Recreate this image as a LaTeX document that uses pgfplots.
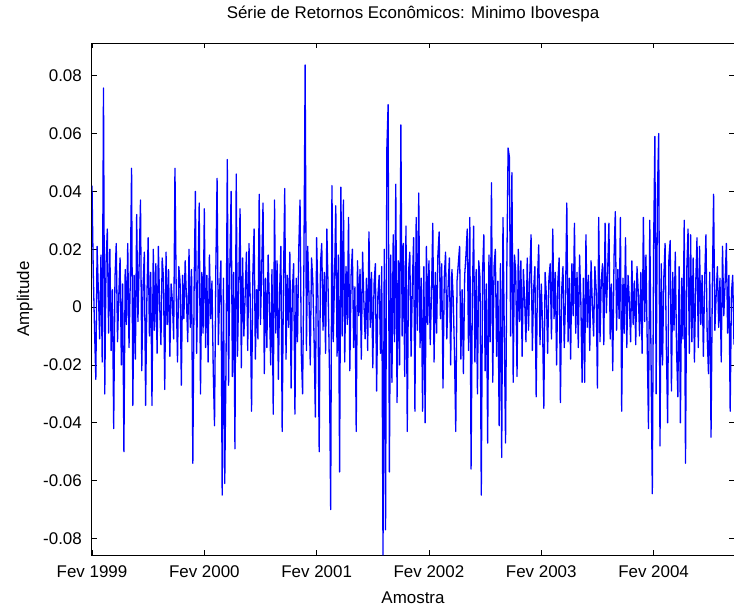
\documentclass[border=0pt]{standalone}
\usepackage{fontspec}
\setmainfont{Liberation Sans}
\usepackage{pgfplots}
\pgfplotsset{compat=1.18}
\begin{document}
\begin{tikzpicture}
\useasboundingbox (-92bp,-54bp) rectangle (642bp,555bp);
\begin{axis}[
  at={(0,0)}, anchor=south west,
  scale only axis, width=642bp, height=512bp,
  xmin=0, xmax=503, ymin=-0.0857, ymax=0.0913,
  scaled y ticks=false, scaled x ticks=false,
  xtick={0,88,176,264,352,440},
  xticklabels={Fev 1999, Fev 2000, Fev 2001, Fev 2002, Fev 2003, Fev 2004},
  ytick={-0.08,-0.06,-0.04,-0.02,0,0.02,0.04,0.06,0.08},
  yticklabels={-0.08,-0.06,-0.04,-0.02,0,0.02,0.04,0.06,0.08},
  tick align=inside, major tick length=5bp,
  tick style={black, line width=0.8bp},
  axis line style={black, line width=1bp},
  font=\fontsize{17}{20}\selectfont,
  xticklabel style={anchor=base, yshift=-22bp, inner sep=0pt},
  yticklabel style={anchor=east, xshift=-10bp, inner sep=0pt},
  title={Série de Retornos Econômicos: Minimo Ibovespa},
  title style={at={(axis description cs:0.5,1)}, anchor=base, yshift=19bp, inner sep=0pt},
  xlabel={Amostra},
  xlabel style={at={(axis description cs:0.5,0)}, anchor=base, yshift=-48bp, inner sep=0pt},
  ylabel={Amplitude},
  ylabel style={at={(axis description cs:-0.0981,0.5)}, anchor=base, inner sep=0pt},
]
\addplot[color={rgb,1:red,0;green,0;blue,1}, line width=1.3bp, line join=round] table[x expr=\coordindex, y index=0, header=false, row sep=\\] {
0.042\\ 0.012\\ -0.008\\ -0.025\\ 0.021\\ 0.005\\ -0.011\\ 0.018\\ -0.019\\ 0.0757\\
-0.030\\ 0.015\\ 0.027\\ -0.009\\ 0.020\\ -0.015\\ 0.006\\ -0.042\\ 0.010\\ 0.022\\
-0.012\\ 0.004\\ 0.017\\ -0.020\\ 0.008\\ -0.050\\ 0.013\\ -0.006\\ 0.022\\ -0.014\\
0.009\\ 0.048\\ -0.034\\ 0.011\\ -0.018\\ 0.032\\ -0.005\\ 0.016\\ 0.037\\ -0.022\\
0.007\\ 0.019\\ -0.034\\ 0.003\\ 0.024\\ -0.010\\ 0.012\\ -0.034\\ 0.020\\ -0.008\\
0.015\\ -0.016\\ 0.021\\ 0.001\\ -0.013\\ 0.017\\ 0.010\\ -0.0285\\ 0.019\\ -0.006\\
0.013\\ -0.017\\ 0.008\\ 0.002\\ -0.011\\ 0.048\\ 0.005\\ -0.019\\ 0.014\\ 0.009\\
-0.027\\ 0.011\\ -0.004\\ 0.016\\ 0.003\\ -0.012\\ 0.020\\ -0.007\\ 0.013\\ -0.054\\
0.006\\ 0.040\\ -0.016\\ 0.010\\ 0.036\\ -0.030\\ 0.012\\ -0.009\\ 0.034\\ -0.014\\
0.011\\ -0.019\\ 0.018\\ -0.004\\ 0.009\\ -0.022\\ -0.041\\ 0.012\\ 0.0445\\ -0.013\\
0.006\\ 0.016\\ -0.065\\ 0.010\\ -0.061\\ -0.020\\ 0.051\\ -0.027\\ 0.014\\ 0.040\\
-0.024\\ 0.012\\ -0.049\\ 0.046\\ -0.017\\ 0.008\\ 0.034\\ -0.021\\ 0.017\\ -0.010\\
0.004\\ 0.019\\ -0.015\\ 0.022\\ 0.002\\ -0.036\\ 0.011\\ 0.027\\ -0.018\\ 0.006\\
-0.011\\ 0.039\\ -0.006\\ 0.014\\ 0.036\\ -0.023\\ 0.010\\ -0.014\\ 0.018\\ 0.001\\
-0.020\\ 0.013\\ -0.037\\ 0.037\\ -0.009\\ 0.016\\ -0.025\\ 0.005\\ 0.021\\ -0.043\\
0.008\\ 0.041\\ -0.018\\ 0.011\\ -0.007\\ 0.019\\ -0.028\\ 0.006\\ 0.015\\ -0.037\\
0.010\\ -0.012\\ 0.020\\ 0.037\\ -0.016\\ -0.030\\ 0.013\\ 0.0837\\ -0.015\\ 0.021\\
0.004\\ -0.020\\ 0.017\\ 0.009\\ -0.011\\ -0.038\\ 0.024\\ 0.003\\ -0.050\\ 0.015\\
0.022\\ -0.008\\ 0.012\\ -0.016\\ 0.027\\ 0.006\\ -0.021\\ -0.070\\ 0.042\\ -0.012\\
0.009\\ 0.035\\ -0.017\\ 0.018\\ -0.057\\ 0.0415\\ -0.010\\ 0.037\\ -0.019\\ 0.014\\
-0.006\\ 0.031\\ -0.022\\ 0.011\\ 0.020\\ -0.014\\ 0.007\\ -0.043\\ 0.016\\ -0.003\\
0.013\\ -0.018\\ 0.019\\ 0.002\\ -0.011\\ 0.010\\ -0.015\\ 0.026\\ -0.007\\ 0.012\\
-0.021\\ 0.008\\ 0.015\\ -0.029\\ 0.004\\ 0.011\\ -0.016\\ 0.014\\ -0.0857\\ 0.020\\
-0.077\\ 0.0546\\ 0.070\\ -0.057\\ 0.018\\ -0.026\\ 0.025\\ -0.012\\ 0.0425\\ -0.033\\
0.016\\ -0.020\\ 0.063\\ -0.010\\ 0.022\\ -0.024\\ 0.028\\ -0.043\\ 0.012\\ 0.019\\
-0.017\\ 0.008\\ 0.024\\ -0.036\\ 0.031\\ -0.008\\ 0.0394\\ -0.014\\ 0.010\\ -0.036\\
0.014\\ -0.040\\ 0.021\\ -0.006\\ 0.016\\ -0.013\\ 0.005\\ 0.029\\ -0.019\\ 0.012\\
-0.009\\ 0.018\\ 0.026\\ -0.004\\ 0.015\\ -0.028\\ 0.010\\ 0.019\\ -0.011\\ 0.007\\
0.017\\ -0.020\\ 0.013\\ 0.003\\ -0.016\\ -0.043\\ 0.009\\ 0.015\\ 0.021\\ -0.018\\
0.006\\ -0.023\\ 0.011\\ 0.018\\ 0.027\\ -0.015\\ 0.031\\ -0.056\\ 0.004\\ 0.028\\
-0.019\\ 0.013\\ -0.030\\ 0.016\\ 0.010\\ -0.065\\ 0.012\\ 0.025\\ -0.022\\ 0.008\\
-0.047\\ 0.018\\ -0.012\\ 0.043\\ -0.026\\ 0.014\\ 0.020\\ -0.017\\ 0.009\\ -0.041\\
0.015\\ -0.052\\ 0.031\\ -0.008\\ -0.047\\ 0.013\\ 0.055\\ 0.052\\ -0.010\\ 0.0465\\
-0.026\\ 0.018\\ 0.012\\ -0.024\\ 0.020\\ -0.005\\ 0.016\\ -0.017\\ 0.013\\ 0.002\\
-0.012\\ 0.017\\ -0.008\\ 0.011\\ 0.025\\ -0.015\\ 0.006\\ 0.014\\ -0.031\\ 0.009\\
0.0215\\ -0.013\\ 0.008\\ -0.006\\ -0.035\\ 0.012\\ 0.004\\ -0.016\\ 0.010\\ 0.015\\
-0.011\\ 0.027\\ -0.004\\ 0.012\\ -0.020\\ 0.009\\ 0.017\\ -0.033\\ 0.006\\ 0.014\\
-0.014\\ 0.003\\ 0.036\\ -0.012\\ 0.010\\ -0.018\\ 0.015\\ -0.003\\ 0.029\\ -0.009\\
0.012\\ -0.014\\ 0.018\\ 0.002\\ -0.026\\ 0.010\\ -0.026\\ 0.025\\ -0.007\\ 0.011\\
-0.015\\ 0.016\\ 0.001\\ -0.010\\ 0.014\\ 0.006\\ -0.028\\ 0.031\\ -0.012\\ 0.009\\
0.015\\ -0.013\\ 0.029\\ -0.002\\ 0.012\\ 0.029\\ -0.011\\ 0.008\\ -0.022\\ 0.017\\
0.033\\ -0.008\\ 0.013\\ -0.004\\ 0.031\\ -0.036\\ 0.010\\ -0.009\\ 0.024\\ -0.014\\
0.011\\ 0.002\\ -0.012\\ 0.016\\ -0.006\\ 0.009\\ -0.013\\ 0.014\\ 0.005\\ -0.010\\
0.012\\ -0.016\\ 0.031\\ -0.005\\ 0.018\\ -0.012\\ -0.042\\ 0.030\\ -0.018\\ -0.0645\\
0.020\\ 0.059\\ -0.030\\ 0.039\\ 0.060\\ -0.048\\ 0.015\\ -0.020\\ 0.010\\ 0.022\\
-0.014\\ -0.040\\ 0.017\\ 0.023\\ -0.029\\ 0.012\\ -0.008\\ 0.019\\ -0.015\\ -0.031\\
0.014\\ -0.040\\ 0.010\\ -0.011\\ 0.030\\ -0.054\\ 0.013\\ 0.027\\ -0.016\\ 0.025\\
-0.012\\ 0.017\\ -0.019\\ 0.008\\ 0.024\\ -0.014\\ 0.021\\ -0.006\\ 0.011\\ -0.017\\
0.009\\ 0.025\\ -0.010\\ -0.023\\ 0.012\\ -0.045\\ 0.006\\ 0.039\\ -0.008\\ 0.004\\
0.014\\ -0.007\\ 0.010\\ -0.019\\ 0.021\\ -0.003\\ 0.008\\ 0.022\\ -0.009\\ 0.011\\
-0.036\\ 0.005\\ 0.011\\ -0.013\\
};
\end{axis}
\end{tikzpicture}
\end{document}
